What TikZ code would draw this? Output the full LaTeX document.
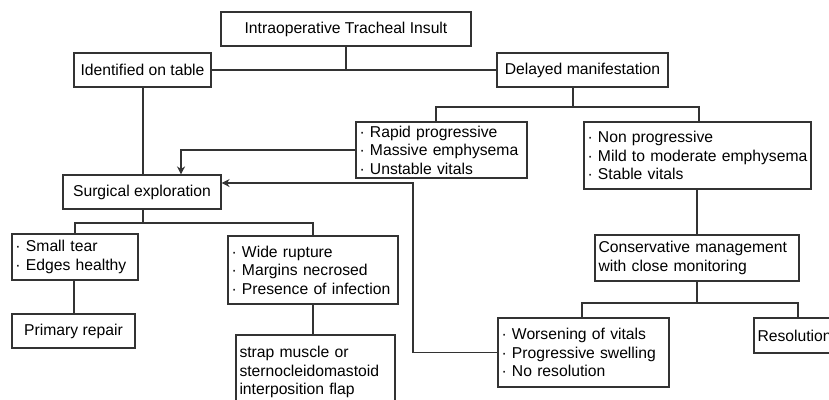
\documentclass[tikz,border=0pt]{standalone}
\usepackage{fontspec}
\setmainfont{Liberation Sans}
\usetikzlibrary{arrows.meta}
\newcommand\bitem[1]{\mbox{·\ #1}}
\begin{document}
\begin{tikzpicture}[x=1pt,y=-1pt,
  box/.style={draw=black!80, line width=1.1pt, inner xsep=3.5pt, inner ysep=0pt,
    font=\fontsize{15.7}{18.6}\selectfont, text=black},
  cbox/.style={box, align=center},
  lbox/.style={box, align=left, text width=#1},
  conn/.style={draw=black!80, line width=1.1pt},
  arr/.style={conn, -{Stealth[length=8pt,width=8pt,inset=2.5pt]}}]
\clip (0,0) rectangle (829,399);
\fill[white] (0,0) rectangle (829,399);

\node[cbox, minimum width=250, minimum height=34] (top) at (346,29) {Intraoperative Tracheal Insult};
\node[cbox, minimum width=137, minimum height=34] (ident) at (142.5,70) {Identified on table};
\node[cbox, minimum width=171, minimum height=34] (delayed) at (582.5,70) {Delayed manifestation};
\node[lbox=164, minimum height=56] (rapid) at (441.5,150) {\bitem{Rapid progressive}\\\bitem{Massive emphysema}\\\bitem{Unstable vitals}};
\node[lbox=220, minimum height=67] (nonprog) at (697.5,155.5) {\bitem{Non progressive}\\\bitem{Mild to moderate emphysema}\\\bitem{Stable vitals}};
\node[cbox, minimum width=158, minimum height=34] (surg) at (142,192) {Surgical exploration};
\node[lbox=197, minimum height=46] (cons) at (697,258) {\mbox{Conservative management}\\\mbox{with close monitoring}};
\node[lbox=119, minimum height=46] (small) at (75,257) {\bitem{Small tear}\\\bitem{Edges healthy}};
\node[cbox, minimum width=123, minimum height=34] (primary) at (73.5,331) {Primary repair};
\node[lbox=163, minimum height=68] (wide) at (313,270) {\bitem{Wide rupture}\\\bitem{Margins necrosed}\\\bitem{Presence of infection}};
\node[lbox=152, minimum height=74] (strap) at (315.5,372) {\mbox{strap muscle or}\\\mbox{sternocleidomastoid}\\\mbox{interposition flap}};
\node[lbox=164, minimum height=69] (worse) at (583.5,352.5) {\bitem{Worsening of vitals}\\\bitem{Progressive swelling}\\\bitem{No resolution}};
\node[lbox=81, minimum height=35] (resol) at (798,335.5) {Resolution};

% top split
\draw[conn] (top.south) |- (ident.east);
\draw[conn] (top.south) |- (delayed.west);
% identified -> surgical
\draw[conn] ([xshift=0.5pt]ident.south) -- ([xshift=0.5pt]ident.south |- surg.north);
% delayed split
\coordinate (dj) at (573,107);
\draw[conn] (delayed.south -| dj) -- (dj);
\draw[conn] (dj) -| ([xshift=-5.5pt]rapid.north);
\draw[conn] (dj) -| ([xshift=1.5pt]nonprog.north);
% rapid -> surgical
\draw[arr] (rapid.west) -| ([xshift=39pt]surg.north);
% nonprog -> conservative
\draw[conn] (nonprog.south -| cons.north) -- (cons.north);
% conservative split
\coordinate (cj) at (697,303);
\draw[conn] (cons.south) -- (cj);
\draw[conn] (cj) -| ([xshift=-1.5pt]worse.north);
\draw[conn] (cj) -| (resol.north);
% worsening -> surgical
\coordinate (loop) at (413,183);
\draw[arr] (worse.west) -| (loop) -- ([yshift=9pt]surg.east);
% surgical split
\coordinate (sj) at (143,223);
\draw[conn] (surg.south -| sj) -- (sj);
\draw[conn] (sj) -| (small.north);
\draw[conn] (sj) -| (wide.north);
\draw[conn] ([xshift=-1pt]small.south) -- ([xshift=-1pt]small.south |- primary.north);
\draw[conn] (wide.south) -- (wide.south |- strap.north);
\end{tikzpicture}
\end{document}
